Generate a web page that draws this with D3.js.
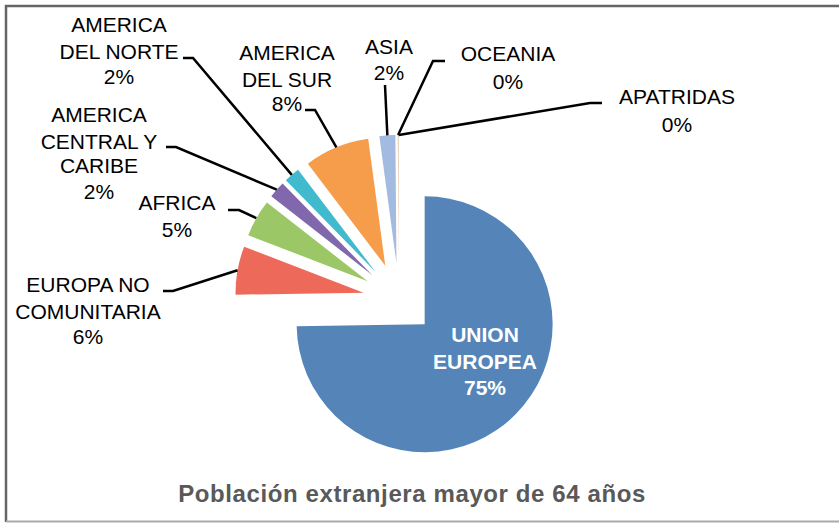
<!DOCTYPE html>
<html>
<head>
<meta charset="utf-8">
<style>
  body { margin: 0; background: #fff; }
  svg { display: block; font-family: "Liberation Sans", Arial, sans-serif; }
</style>
</head>
<body>
<svg width="839" height="523"></svg>
<script src="https://cdn.jsdelivr.net/npm/d3@7"></script>
<script>

// data (percent of total)
var regions = ["UNION EUROPEA", "EUROPA NO COMUNITARIA", "AFRICA", "AMERICA CENTRAL Y CARIBE",
               "AMERICA DEL NORTE", "AMERICA DEL SUR", "ASIA", "OCEANIA", "APATRIDAS"];
var values = [74.7, 6.1, 4.7, 2.1, 2.0, 8.2, 2.0, 0.08, 0.05];
// how each category name is broken over lines in its label
var labelLines = [["UNION", "EUROPEA"], ["EUROPA NO", "COMUNITARIA"], ["AFRICA"], ["AMERICA", "CENTRAL Y", "CARIBE"],
                  ["AMERICA", "DEL NORTE"], ["AMERICA", "DEL SUR"], ["ASIA"], ["OCEANIA"], ["APATRIDAS"]];
var colors = ["#5585b8", "#ed6a5b", "#9bc766", "#8168ac", "#40bacc", "#f59d4b", "#a3bbe0", "#f2a29a", "#c9d89c"];

var svg = d3.select("svg");

// frame
svg.append("path").attr("d", "M6,522 V6 H839").attr("fill", "none").attr("stroke", "#666").attr("stroke-width", 2.5);
svg.append("line").attr("x1", 6).attr("x2", 839).attr("y1", 521.5).attr("y2", 521.5).attr("stroke", "#aaa").attr("stroke-width", 2);

var cx = 399, cy = 299, r = 128, explode = 36;

var total = d3.sum(values);
var pie = d3.pie().sort(null).value(function(d) { return d; })(values);
var arc = d3.arc().innerRadius(0).outerRadius(r);

function mid(d) { return (d.startAngle + d.endAngle) / 2; }

var g = svg.append("g").attr("transform", "translate(" + cx + "," + cy + ")");

g.selectAll("path.slice")
  .data(pie)
  .enter().append("path")
    .attr("class", "slice")
    .attr("d", arc)
    .attr("fill", function(d, i) { return colors[i]; })
    .attr("transform", function(d) {
      var a = mid(d);
      return "translate(" + (Math.sin(a) * explode) + "," + (-Math.cos(a) * explode) + ")";
    });

// label placement: text centre x, line centres y, leader points on text side
var layout = [
  {x: 485, y: [335, 362, 388], leader: null},
  {x: 88,  y: [285, 312, 337], leader: [[163, 291], [173, 291]]},
  {x: 177, y: [203, 230],      leader: [[228, 210], [239, 210]]},
  {x: 99,  y: [115, 142, 166, 192], leader: [[166, 147], [176, 147]]},
  {x: 119, y: [25, 52, 77],    leader: [[183, 58], [193, 58]]},
  {x: 287, y: [53, 80, 104],   leader: [[305, 110], [315, 110]]},
  {x: 389, y: [47, 73],        leader: [[385, 85]]},
  {x: 508, y: [54, 82],        leader: [[445, 61], [433, 61]]},
  {x: 677, y: [97, 125],       leader: [[602, 103], [590, 103]]}
];

pie.forEach(function(d, i) {
  var L = layout[i];
  var pct = Math.round(values[i] / total * 100) + "%";
  var lines = labelLines[i].concat([pct]);

  if (L.leader) {
    var a = mid(d);
    var end = [cx + Math.sin(a) * (r + explode), cy - Math.cos(a) * (r + explode)];
    svg.append("path")
      .attr("d", d3.line()(L.leader.concat([end])))
      .attr("fill", "none")
      .attr("stroke", "#000")
      .attr("stroke-width", 2.5);
  }

  var t = svg.append("text")
    .attr("text-anchor", "middle")
    .attr("font-size", 21)
    .attr("font-weight", i === 0 ? "bold" : "normal")
    .attr("fill", i === 0 ? "#fff" : "#000");
  lines.forEach(function(s, j) {
    t.append("tspan")
      .attr("x", L.x)
      .attr("y", L.y[j])
      .attr("dy", "0.35em")
      .text(s);
  });
});

// title
svg.append("text")
  .attr("x", 412)
  .attr("y", 494)
  .attr("dy", "0.35em")
  .attr("text-anchor", "middle")
  .attr("font-size", 24)
  .attr("font-weight", "bold")
  .attr("letter-spacing", 0.6)
  .attr("fill", "#595959")
  .text("Población extranjera mayor de 64 años");

</script>
</body>
</html>
